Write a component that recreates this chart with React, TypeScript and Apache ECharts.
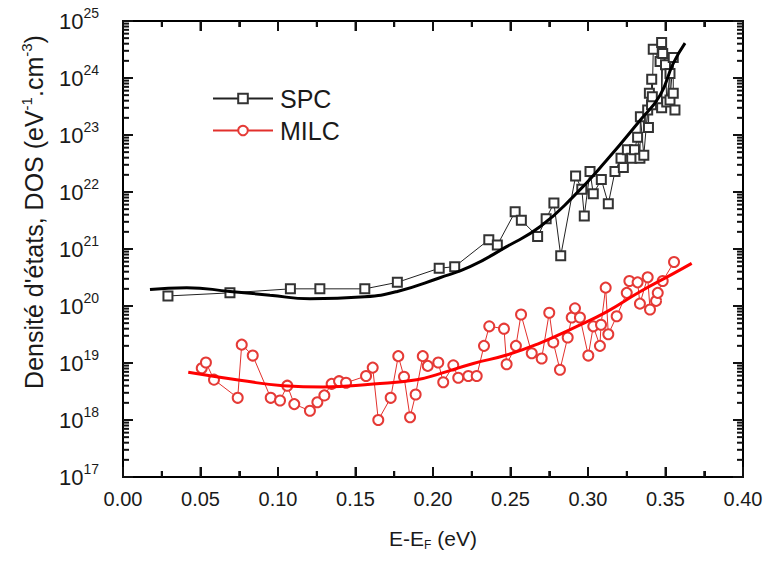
import React, { useEffect, useRef } from "react";
import * as echarts from "echarts";

const xTicks = { min: 0, max: 0.4, interval: 0.05 };
const yExponents = [17, 18, 19, 20, 21, 22, 23, 24, 25];

const spcData: [number, number][] = [
  [0.029, 1.5e20], [0.069, 1.7e20], [0.108, 2.0e20], [0.127, 2.0e20], [0.156, 2.0e20],
  [0.177, 2.6e20], [0.204, 4.6e20], [0.214, 4.9e20], [0.236, 1.45e21], [0.2415, 1.17e21],
  [0.253, 4.5e21], [0.257, 3.2e21], [0.2675, 1.66e21], [0.273, 3.4e21], [0.278, 6.4e21],
  [0.2824, 7.6e20], [0.292, 1.9e22], [0.296, 1.12e22], [0.2976, 3.8e21], [0.3013, 2.3e22],
  [0.3034, 9.3e21], [0.3086, 1.65e22], [0.3131, 6.2e21], [0.3174, 2.3e22], [0.3213, 3.9e22],
  [0.3228, 2.7e22], [0.3254, 5.5e22], [0.3282, 3.9e22], [0.33, 5.5e22], [0.332, 9.1e22],
  [0.3335, 3.9e22], [0.3338, 2.1e23], [0.336, 4.4e22], [0.3385, 2.75e23], [0.339, 1.35e23],
  [0.3396, 5.4e23], [0.341, 3.4e23], [0.3411, 9.5e23], [0.3415, 4.7e23], [0.3421, 3.2e24],
  [0.3465, 1.95e24], [0.3475, 4.2e24], [0.3475, 3.0e23], [0.3482, 2.7e24], [0.35, 1.7e24],
  [0.3508, 3.8e23], [0.3529, 1.2e24], [0.3529, 4.1e23], [0.355, 2.3e24], [0.355, 5.4e23],
  [0.3561, 2.75e23],
];

const milcData: [number, number][] = [
  [0.0508, 8.1e18], [0.0535, 1.02e19], [0.0587, 5.1e18], [0.074, 2.45e18], [0.0766, 2.1e19],
  [0.0837, 1.35e19], [0.0953, 2.45e18], [0.1013, 2.2e18], [0.106, 4.0e18], [0.1105, 1.9e18],
  [0.1206, 1.45e18], [0.1254, 2.05e18], [0.1299, 2.7e18], [0.1346, 4.3e18], [0.1394, 4.8e18],
  [0.1439, 4.5e18], [0.1568, 5.9e18], [0.1611, 8.3e18], [0.1647, 1.0e18], [0.1727, 2.45e18],
  [0.1776, 1.32e19], [0.1813, 5.75e18], [0.1852, 1.12e18], [0.1888, 2.8e18], [0.1934, 1.32e19],
  [0.1966, 8.9e18], [0.2034, 1.02e19], [0.2066, 4.6e18], [0.2131, 9.1e18], [0.2163, 5.5e18],
  [0.2228, 5.9e18], [0.2282, 5.9e18], [0.2329, 2.0e19], [0.2363, 4.4e19], [0.2458, 4.0e19],
  [0.2475, 9.5e18], [0.2535, 2.0e19], [0.2568, 7.1e19], [0.2637, 1.48e19], [0.2701, 1.2e19],
  [0.275, 7.6e19], [0.2776, 2.3e19], [0.2819, 7.6e18], [0.2869, 2.8e19], [0.2895, 6.3e19],
  [0.2916, 9.1e19], [0.2948, 6.3e19], [0.3002, 1.35e19], [0.3034, 4.4e19], [0.3077, 2.0e19],
  [0.3084, 4.7e19], [0.3114, 2.1e20], [0.3131, 3.2e19], [0.3185, 6.6e19], [0.325, 1.7e20],
  [0.3267, 2.75e20], [0.332, 2.6e20], [0.3335, 1.1e20], [0.3385, 3.2e20], [0.34, 8.7e19],
  [0.3439, 1.23e20], [0.345, 1.7e20], [0.3482, 2.75e20], [0.3555, 5.9e20],
];

const spcFit: [number, number][] = [
  [0.0174, 1.95e20], [0.0411, 2.1e20], [0.069, 1.8e20], [0.0948, 1.55e20], [0.1206, 1.34e20],
  [0.156, 1.45e20], [0.177, 1.8e20], [0.204, 3.1e20], [0.2239, 4.9e20], [0.2475, 1.1e21],
  [0.269, 2.45e21], [0.2905, 8.3e21], [0.312, 3.6e22], [0.3335, 1.8e23], [0.3465, 5.0e23],
  [0.355, 1.8e24], [0.3626, 4.1e24],
];

const milcFit: [number, number][] = [
  [0.0421, 6.9e18], [0.0755, 5.0e18], [0.1034, 4.0e18], [0.1292, 3.8e18], [0.1615, 4.3e18],
  [0.1895, 5.1e18], [0.2045, 6.5e18], [0.226, 9.8e18], [0.2475, 1.38e19], [0.269, 2.24e19],
  [0.2905, 4.1e19], [0.312, 7.9e19], [0.3335, 1.78e20], [0.355, 3.7e20], [0.3669, 5.6e20],
];

const FONT = "'Liberation Sans', Arial, sans-serif";
const TEXT = "#1a1a1a";

export default function App() {
  const ref = useRef<HTMLDivElement>(null);
  useEffect(() => {
    if (!ref.current) return;
    const chart = echarts.init(ref.current, undefined, { renderer: "svg" });
    const yMin = Math.pow(10, yExponents[0]);
    const yMax = Math.pow(10, yExponents[yExponents.length - 1]);
    const MAJ = 10;
    const MIN = 6;
    const axisLine = () => ({ show: true, onZero: false, lineStyle: { color: "#000", width: 2 } });
    const axisTick = () => ({ show: true, inside: true, length: MAJ, lineStyle: { color: "#111", width: 2 } });
    const minorTick = () => ({ show: true, splitNumber: 2, length: MIN, lineStyle: { color: "#111", width: 2 } });
    chart.setOption({
      animation: false,
      grid: { left: 123, right: 27, top: 21, bottom: 88 },
      legend: {
        data: ["SPC", "MILC"],
        orient: "vertical",
        left: 207,
        top: 81,
        itemWidth: 60,
        itemHeight: 12,
        itemGap: 7,
        textStyle: { fontSize: 25, fontFamily: FONT, color: TEXT, padding: [0, 0, 0, 2] },
      },
      xAxis: [
        {
          type: "value",
          min: xTicks.min,
          max: xTicks.max,
          interval: xTicks.interval,
          position: "bottom",
          axisLine: axisLine(),
          axisTick: axisTick(),
          minorTick: minorTick(),
          splitLine: { show: false },
          minorSplitLine: { show: false },
          axisLabel: {
            fontSize: 20,
            fontFamily: FONT,
            color: TEXT,
            margin: 12,
            formatter: (v: number) => v.toFixed(2),
          },
          name: "{t|E-E}{sub|F}{t| (eV)}",
          nameLocation: "middle",
          nameGap: 48,
          nameTextStyle: {
            rich: {
              t: { fontSize: 21, fontFamily: FONT, color: TEXT },
              sub: { fontSize: 12, fontFamily: FONT, color: TEXT, padding: [14, 0, 0, 0] },
            },
          },
        },
        {
          type: "value",
          min: xTicks.min,
          max: xTicks.max,
          interval: xTicks.interval,
          position: "top",
          axisLine: axisLine(),
          axisTick: axisTick(),
          minorTick: minorTick(),
          splitLine: { show: false },
          minorSplitLine: { show: false },
          axisLabel: { show: false },
        },
      ],
      yAxis: [
        {
          type: "log",
          logBase: 10,
          min: yMin,
          max: yMax,
          position: "left",
          axisLine: axisLine(),
          axisTick: axisTick(),
          splitLine: { show: false },
          axisLabel: {
            margin: 24,
            formatter: (v: number) => `{b|10}{s|${Math.round(Math.log10(v))}}`,
            rich: {
              b: { fontSize: 22, fontFamily: FONT, color: TEXT },
              s: { fontSize: 14, fontFamily: FONT, color: TEXT, padding: [0, 0, 16, 0] },
            },
          },
        },
        {
          type: "log",
          logBase: 10,
          min: yMin,
          max: yMax,
          position: "right",
          axisLine: axisLine(),
          axisTick: axisTick(),
          splitLine: { show: false },
          axisLabel: { show: false },
        },
      ],
      series: [
        {
          name: "SPC",
          type: "line",
          data: spcData,
          symbol: "emptyRect",
          symbolSize: 9,
          showAllSymbol: true,
          color: "#333",
          lineStyle: { color: "#222", width: 1 },
          itemStyle: { color: "#333", borderWidth: 1 },
        },
        {
          name: "MILC",
          type: "line",
          data: milcData,
          symbol: "emptyCircle",
          symbolSize: 10,
          showAllSymbol: true,
          color: "#e53a36",
          lineStyle: { color: "#e2302c", width: 1 },
          itemStyle: { color: "#e53a36", borderWidth: 1 },
        },
        {
          name: "SPC fit",
          type: "line",
          data: spcFit,
          smooth: true,
          showSymbol: false,
          symbol: "none",
          lineStyle: { color: "#000", width: 3 },
          z: 5,
        },
        {
          name: "MILC fit",
          type: "line",
          data: milcFit,
          smooth: true,
          showSymbol: false,
          symbol: "none",
          lineStyle: { color: "#ff0000", width: 3 },
          z: 5,
        },
      ],
    });

    // Tick marks of the log axes (decades and 2..9 in between) and of the x axes,
    // placed through the chart's own axes with convertToPixel.
    const grid = (chart as any).getModel().getComponent("grid", 0).coordinateSystem.getRect();
    const tickEls: any[] = [];
    const seg = (x1: number, y1: number, x2: number, y2: number) =>
      tickEls.push({
        type: "line",
        z: 100,
        silent: true,
        shape: { x1, y1, x2, y2 },
        style: { stroke: "#111", lineWidth: 2 },
      });
    for (let e = yExponents[0]; e < yExponents[yExponents.length - 1]; e++) {
      for (let k = 1; k <= 9; k++) {
        if (k === 1 && e === yExponents[0]) continue;
        const p = chart.convertToPixel({ gridIndex: 0 } as any, [0.2, k * Math.pow(10, e)]) as number[];
        const len = k === 1 ? MAJ : MIN;
        seg(grid.x, p[1], grid.x + len, p[1]);
        seg(grid.x + grid.width - len, p[1], grid.x + grid.width, p[1]);
      }
    }
    const nX = Math.round((xTicks.max - xTicks.min) / (xTicks.interval / 2));
    for (let i = 1; i < nX; i++) {
      const xv = xTicks.min + (i * xTicks.interval) / 2;
      const p = chart.convertToPixel({ gridIndex: 0 } as any, [xv, 1e20]) as number[];
      const len = i % 2 === 0 ? MAJ : MIN;
      seg(p[0], grid.y + grid.height - len, p[0], grid.y + grid.height);
      seg(p[0], grid.y, p[0], grid.y + len);
    }
    chart.setOption({
      graphic: [
        ...tickEls,
        {
          type: "text",
          x: 34,
          y: 212,
          rotation: Math.PI / 2,
          style: {
            text: "{t|Densité d'états, DOS (eV}{s|-1}{t|.cm}{s|-3}{t|)}",
            align: "center",
            verticalAlign: "middle",
            rich: {
              t: { fontSize: 25, fontFamily: FONT, fill: TEXT },
              s: { fontSize: 15, fontFamily: FONT, fill: TEXT, padding: [0, 0, 16, 0] },
            },
          },
        },
      ],
    });
    return () => chart.dispose();
  }, []);
  return (
    <div
      ref={ref}
      style={{ position: "fixed", left: 0, top: 0, width: 770, height: 565, background: "#fff" }}
    />
  );
}
